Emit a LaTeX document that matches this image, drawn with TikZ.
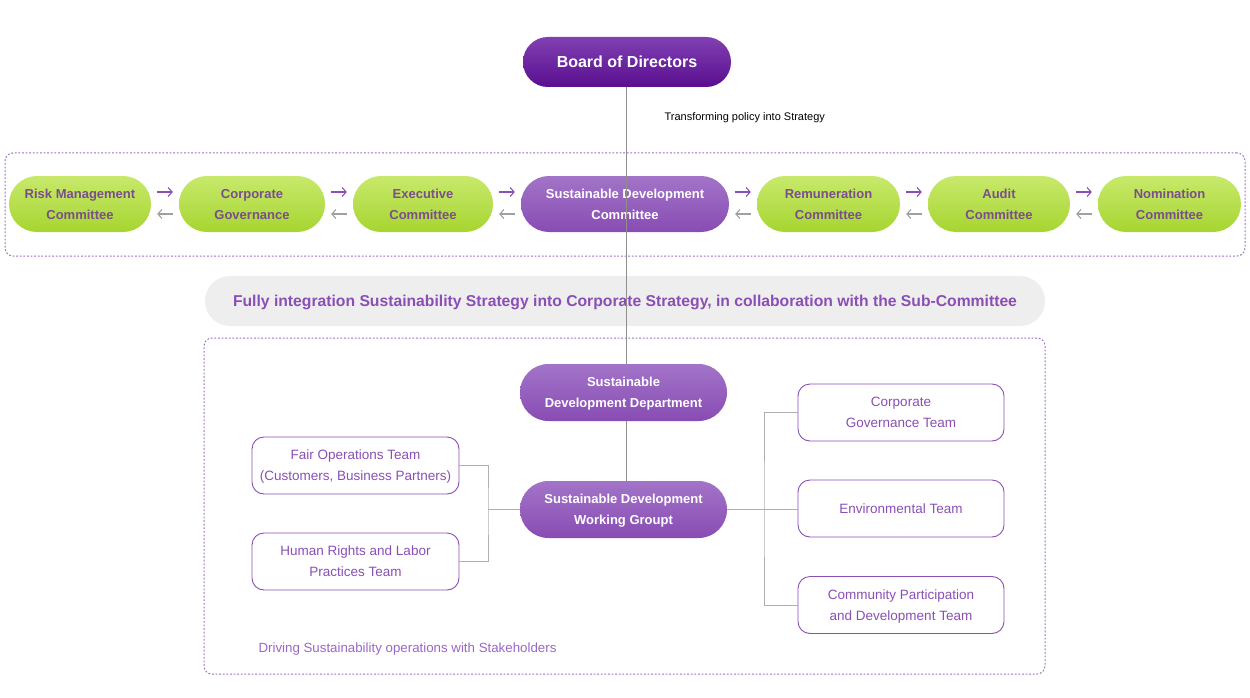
\documentclass[tikz,border=0pt]{standalone}
\usepackage{fontspec}
\setmainfont{Liberation Sans}
\usetikzlibrary{arrows.meta,calc}
\definecolor{grtop}{HTML}{C8E96C}
\definecolor{grbot}{HTML}{A6D530}
\definecolor{grtext}{HTML}{7A4E8C}
\definecolor{pptop}{HTML}{A274C8}
\definecolor{ppbot}{HTML}{884CB3}
\definecolor{bdtop}{HTML}{8040B2}
\definecolor{bdbot}{HTML}{5A0E90}
\definecolor{ppline}{HTML}{8A4FB5}
\definecolor{dashc}{HTML}{9A70C4}
\definecolor{drivec}{HTML}{9A66C8}
\definecolor{bannerfill}{HTML}{EEEEEE}
\definecolor{connc}{HTML}{AFAFAF}
\definecolor{mainc}{HTML}{8E8E8E}
\definecolor{backarr}{HTML}{A0A0A0}
\begin{document}
\begin{tikzpicture}[x=1pt,y=-1pt,
  greenpill/.style={rounded corners=27.9pt, minimum width=142pt, minimum height=56pt,
    top color=grtop, bottom color=grbot, draw=none, text=grtext, text depth=0pt,
    font=\bfseries\fontsize{13}{21}\selectfont, align=center, inner sep=0pt},
  purplepill/.style={rounded corners=28.4pt, minimum width=207pt, minimum height=57pt,
    top color=pptop, bottom color=ppbot, draw=none, text=white, text depth=0pt,
    font=\bfseries\fontsize{13}{21}\selectfont, align=center, inner sep=0pt},
  teambox/.style={rounded corners=12pt, minimum width=206pt, minimum height=57pt,
    fill=white, draw=ppline, line width=0.9pt, text=ppline, text depth=0pt,
    font=\fontsize{13.5}{21}\selectfont, align=center, inner sep=0pt},
  dashbox/.style={draw=dashc, rounded corners=8pt, line width=1pt,
    dash pattern=on 1.8pt off 1.8pt, inner sep=0pt},
  fwd/.style={draw=ppline, line width=1.1pt, -{Straight Barb[length=4pt,width=9pt]}},
  bwd/.style={draw=backarr, line width=1.1pt, -{Straight Barb[length=4pt,width=9pt]}},
  conn/.style={draw=connc, line width=1pt},
  mainline/.style={draw=mainc, line width=0.8pt}
]
\useasboundingbox (0,0) rectangle (1250,698);

% dashed frames
\node[dashbox, minimum width=1240pt, minimum height=103pt] (topframe) at (625,204.5) {};
\node[dashbox, minimum width=841pt, minimum height=336pt] (lowframe) at (624.5,506) {};

% board
\node[rounded corners=24.9pt, minimum width=208pt, minimum height=50pt,
  top color=bdtop, bottom color=bdbot, text=white, text depth=0pt,
  font=\bfseries\fontsize{16}{20}\selectfont, inner sep=0pt] (board) at (627,62) {Board of Directors};
\node[anchor=base west, font=\fontsize{11}{13}\selectfont, text=black] (transf) at (661,121) {Transforming policy into Strategy};

% committees row
\node[greenpill] (risk) at (80,204) {Risk Management\\Committee};
\node[greenpill, minimum width=146pt] (corp) at (252,204) {Corporate\\Governance};
\node[greenpill, minimum width=140pt] (exec) at (423,204) {Executive\\Committee};
\node[purplepill, minimum width=208pt, minimum height=56pt, rounded corners=27.9pt] (sdc) at (625,204) {Sustainable Development\\Committee};
\node[greenpill, minimum width=143pt] (remu) at (828.5,204) {Remuneration\\Committee};
\node[greenpill] (audit) at (999,204) {Audit\\Committee};
\node[greenpill, minimum width=143pt] (nomi) at (1169.5,204) {Nomination\\Committee};

\foreach \a/\b in {risk/corp,corp/exec,exec/sdc,sdc/remu,remu/audit,audit/nomi}{
  \draw[fwd] ($(\a.east)+(6,-12)$) -- ($(\b.west)+(-6,-12)$);
  \draw[bwd] ($(\b.west)+(-6,10)$) -- ($(\a.east)+(6,10)$);
}

% banner
\node[rounded corners=24.9pt, minimum width=840pt, minimum height=50pt, fill=bannerfill,
  text=ppline, text depth=0pt, font=\bfseries\fontsize{15.7}{18}\selectfont, inner sep=0pt] (banner) at (625,301)
  {Fully integration Sustainability Strategy into Corporate Strategy, in collaboration with the Sub-Committee};

% lower part
\node[purplepill] (dept) at (623.5,392.5) {Sustainable\\Development Department};
\node[purplepill] (wg) at (623.5,509.5) {Sustainable Development\\Working Groupt};

\node[teambox, minimum width=207pt] (fair) at (355.5,465.5) {Fair Operations Team\\(Customers, Business Partners)};
\node[teambox, minimum width=207pt] (human) at (355.5,561.5) {Human Rights and Labor\\Practices Team};

\node[teambox] (cgt) at (901,412.5) {Corporate\\Governance Team};
\node[teambox] (env) at (901,508.5) {Environmental Team};
\node[teambox] (comm) at (901,605) {Community Participation\\and Development Team};

\node[anchor=base west, text=drivec, font=\fontsize{13.3}{15}\selectfont] (driving) at (255,652.5) {Driving Sustainability operations with Stakeholders};

% connectors
\coordinate (lj) at (488,509.5);
\coordinate (rj) at (764,509.5);
\draw[conn] (fair.east) -| (lj) |- (human.east);
\draw[conn] (wg.west) -- (lj);
\draw[conn] (wg.east) -- (wg.east -| env.west);
\draw[conn] (cgt.west) -| (rj) |- (comm.west);

% main vertical line
\draw[mainline] ($(board.south)+(-1,0)$) -- ($(board.south |- dept.north)+(-1,0)$);
\draw[mainline] ($(dept.south)+(2.5,0)$) -- ($(dept.south |- wg.north)+(2.5,0)$);
\end{tikzpicture}
\end{document}
